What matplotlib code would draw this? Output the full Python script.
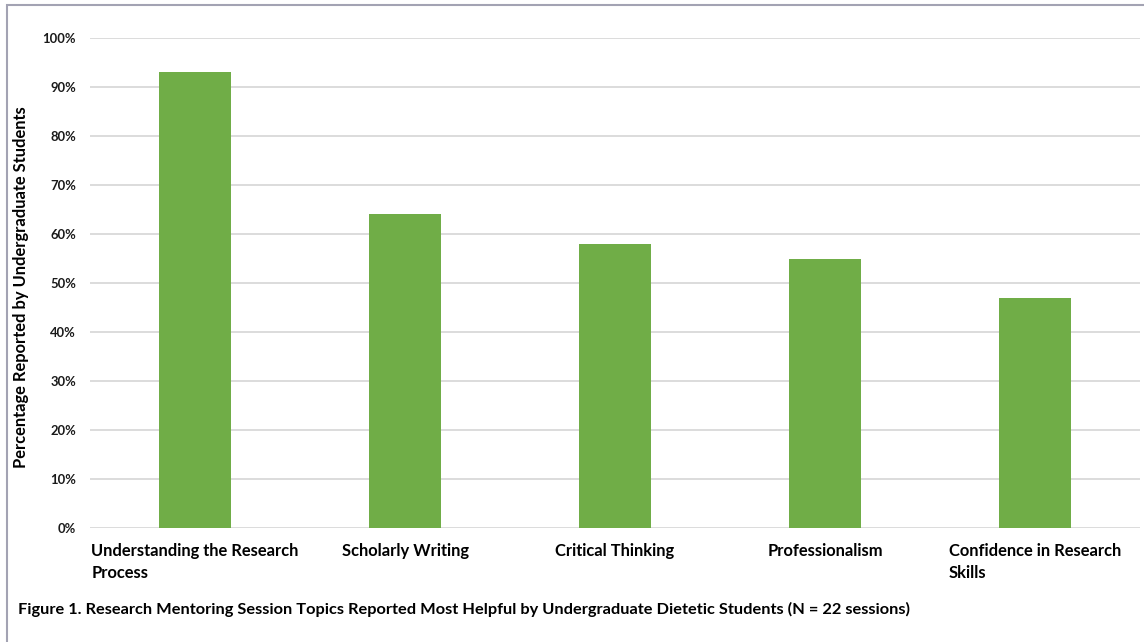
import matplotlib
matplotlib.use("Agg")
import matplotlib.pyplot as plt
from matplotlib.patches import Rectangle
from matplotlib.ticker import FuncFormatter, MultipleLocator

categories = ["Understanding the Research\nProcess", "Scholarly Writing",
              "Critical Thinking", "Professionalism",
              "Confidence in Research\nSkills"]
values = [93, 64, 58, 55, 47]
y_label = "Percentage Reported by Undergraduate Students"
caption = ("Figure 1. Research Mentoring Session Topics Reported Most Helpful "
           "by Undergraduate Dietetic Students (N = 22 sessions)")

plt.rcParams['font.family'] = ['Lato', 'DejaVu Sans']
plt.rcParams['font.weight'] = 'bold'

W, H = 1144, 642
fig = plt.figure(figsize=(W / 100, H / 100), dpi=100)
# axes in pixels: x 90..1140, y 38..528 (top-origin)
ax = fig.add_axes([90 / W, 1 - 528 / H, 1050 / W, 490 / H])

x = list(range(len(categories)))
ax.bar(x, values, width=0.34, color="#70AD47", zorder=3)
ax.set_xlim(-0.5, len(categories) - 0.5)
ax.set_ylim(0, 100)
ax.yaxis.set_major_locator(MultipleLocator(10))
ax.yaxis.set_major_formatter(FuncFormatter(lambda v, p: f"{int(v)}%"))
ax.grid(axis="y", color="#d9d9d9", linewidth=1.3, zorder=0)
for s in ax.spines.values():
    s.set_visible(False)
ax.tick_params(axis="both", length=0)
ax.tick_params(axis="y", labelsize=9.4, pad=10, labelcolor="#1a1a1a")
ax.set_xticks(x)
ax.set_xticklabels(categories, fontsize=11.9, fontweight="bold", multialignment="left",
                   linespacing=1.45)
ax.tick_params(axis="x", pad=11)
for lbl in ax.get_xticklabels():
    lbl.set_verticalalignment("top")

fig.text(21 / W, 1 - 287 / H, y_label, rotation=90, ha="center", va="center",
         fontsize=11.9, fontweight="bold")
fig.text(18 / W, 1 - 609 / H, caption, ha="left", va="center",
         fontsize=11.8, fontweight="bold")

fig.patches.append(Rectangle((7 / W, -0.1), 1.2, 1 - 5 / H + 0.1,
                             transform=fig.transFigure, fill=False,
                             edgecolor="#a3a3b3", linewidth=1.5))

fig.savefig("out.png", dpi=100)
